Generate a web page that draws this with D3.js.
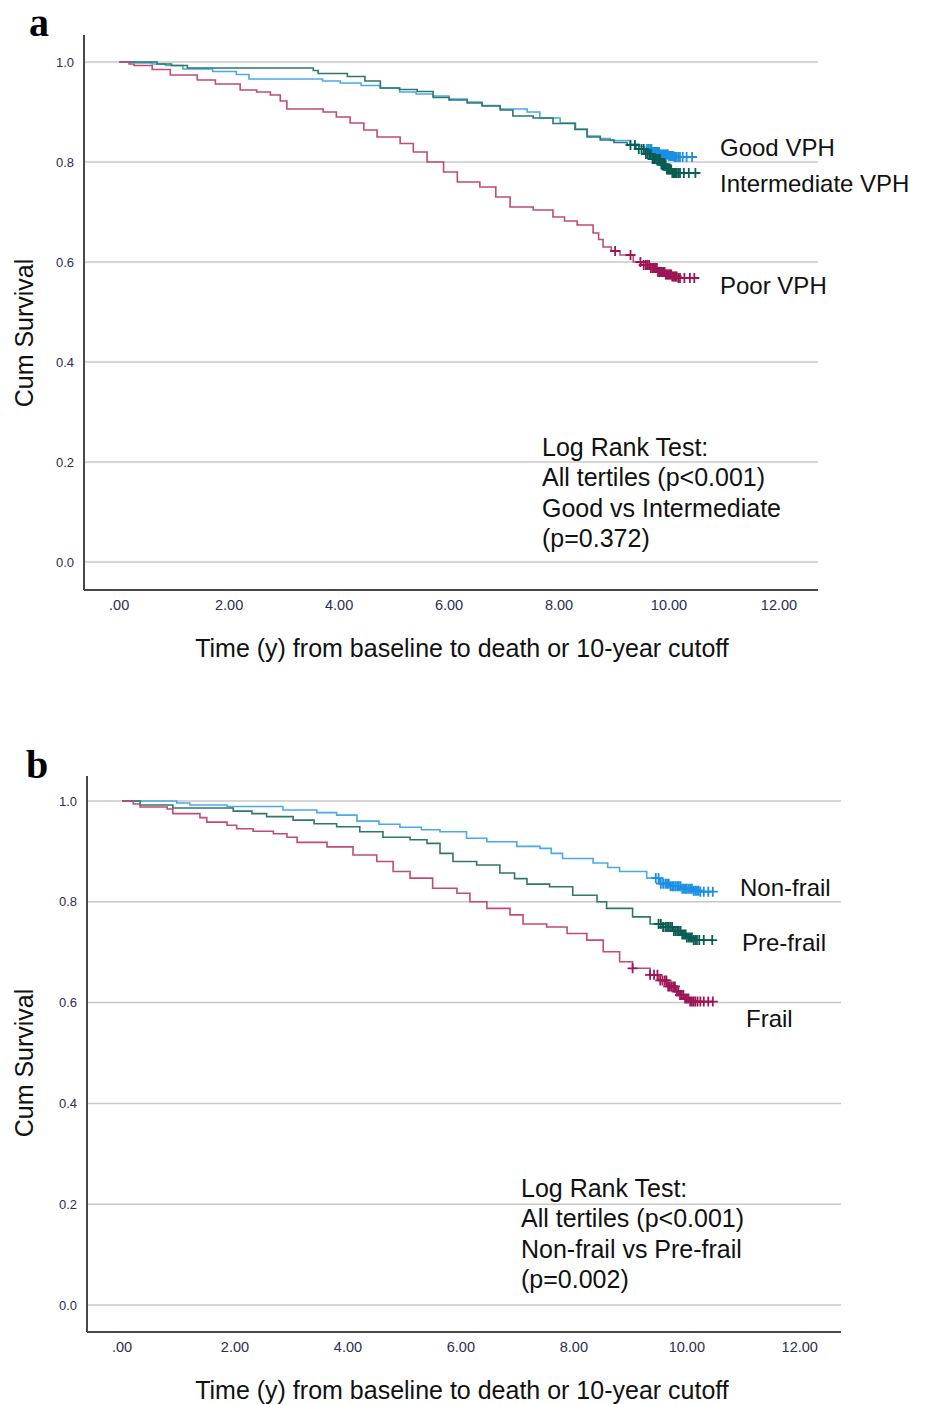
<!DOCTYPE html>
<html>
<head>
<meta charset="utf-8">
<script src="https://cdn.jsdelivr.net/npm/d3@7"></script>
<style>
  body { margin: 0; background: #fff; }
  svg text { font-family: "Liberation Sans", Arial, sans-serif; }
</style>
</head>
<body>
<div id="chart"></div>
<script>
// ---- shared axis data ----
const xTicks = [0, 2, 4, 6, 8, 10, 12];
const xTickLabels = ['.00', '2.00', '4.00', '6.00', '8.00', '10.00', '12.00'];
const yTicks = [0, 0.2, 0.4, 0.6, 0.8, 1.0];
const yTickLabels = ['0.0', '0.2', '0.4', '0.6', '0.8', '1.0'];
const xTitle = 'Time (y) from baseline to death or 10-year cutoff';
const yTitle = 'Cum Survival';

// ---- panel a: VPH tertiles ----
const vphNames = ['Good VPH', 'Intermediate VPH', 'Poor VPH'];
const goodTime = [0, 0.3, 0.6, 0.84, 1.16, 1.7, 2.13, 2.36, 3.7, 4.02, 4.4, 4.75, 5.1, 5.4, 5.71, 6.0, 6.33, 6.6, 6.93, 7.42, 7.65, 8.02, 8.3, 8.51, 8.75, 8.93, 9.29, 9.45, 9.56, 9.7, 9.84, 10.0, 10.1];
const goodSurv = [1.0, 0.998, 0.996, 0.993, 0.986, 0.981, 0.975, 0.966, 0.962, 0.958, 0.953, 0.948, 0.94, 0.936, 0.932, 0.926, 0.92, 0.913, 0.906, 0.9, 0.888, 0.878, 0.866, 0.852, 0.847, 0.843, 0.836, 0.831, 0.826, 0.82, 0.815, 0.812, 0.81];
const goodCensor = [9.6, 9.63, 9.66, 9.68, 9.7, 9.72, 9.74, 9.76, 9.78, 9.8, 9.82, 9.84, 9.86, 9.88, 9.9, 9.92, 9.94, 9.96, 9.98, 10.0, 10.02, 10.04, 10.06, 10.08, 10.1, 10.12, 10.14, 10.17, 10.2, 10.25, 10.32, 10.42];

const interTime = [0, 0.69, 0.95, 1.24, 3.53, 3.62, 4.15, 4.47, 4.75, 5.1, 5.42, 5.71, 6.0, 6.33, 6.6, 6.93, 7.16, 7.53, 7.89, 8.29, 8.51, 8.75, 9.0, 9.24, 9.4, 9.55, 9.7, 9.85, 9.95, 10.05];
const interSurv = [1.0, 0.996, 0.993, 0.988, 0.983, 0.977, 0.971, 0.962, 0.948, 0.945, 0.941, 0.929, 0.924, 0.918, 0.912, 0.904, 0.892, 0.888, 0.877, 0.865, 0.85, 0.844, 0.839, 0.834, 0.826, 0.816, 0.806, 0.795, 0.785, 0.778];
const interCensor = [9.3, 9.38, 9.45, 9.5, 9.54, 9.58, 9.61, 9.64, 9.67, 9.7, 9.72, 9.74, 9.76, 9.78, 9.8, 9.82, 9.84, 9.86, 9.88, 9.9, 9.92, 9.94, 9.96, 9.98, 10.0, 10.02, 10.04, 10.06, 10.08, 10.1, 10.12, 10.14, 10.17, 10.2, 10.27, 10.36, 10.48];

const poorTime = [0, 0.18, 0.27, 0.6, 0.93, 1.42, 1.75, 2.2, 2.5, 2.75, 2.93, 3.05, 3.71, 3.95, 4.2, 4.45, 4.69, 5.11, 5.35, 5.6, 5.9, 6.15, 6.56, 6.85, 7.11, 7.53, 7.89, 8.1, 8.33, 8.62, 8.72, 8.8, 8.95, 9.11, 9.35, 9.5, 9.65, 9.8, 9.93, 10.05, 10.15];
const poorSurv = [1.0, 0.996, 0.993, 0.985, 0.974, 0.964, 0.956, 0.944, 0.94, 0.934, 0.922, 0.906, 0.9, 0.89, 0.878, 0.864, 0.85, 0.837, 0.82, 0.8, 0.78, 0.76, 0.75, 0.73, 0.71, 0.704, 0.69, 0.682, 0.674, 0.658, 0.645, 0.63, 0.622, 0.614, 0.6, 0.594, 0.588, 0.58, 0.575, 0.571, 0.568];
const poorCensor = [9.02, 9.3, 9.48, 9.54, 9.58, 9.61, 9.64, 9.67, 9.7, 9.72, 9.74, 9.76, 9.78, 9.8, 9.82, 9.84, 9.86, 9.88, 9.9, 9.92, 9.94, 9.96, 9.98, 10.0, 10.02, 10.04, 10.06, 10.08, 10.1, 10.12, 10.14, 10.17, 10.2, 10.28, 10.38, 10.46];

const vphNotes = ['Log Rank Test:', 'All tertiles (p<0.001)', 'Good vs Intermediate', '(p=0.372)'];

// ---- panel b: frailty ----
const frailNames = ['Non-frail', 'Pre-frail', 'Frail'];
const nonTime = [0, 0.97, 1.2, 1.86, 2.85, 3.45, 3.8, 4.16, 4.55, 4.92, 5.3, 5.63, 6.1, 6.46, 6.99, 7.4, 7.6, 7.8, 8.34, 8.6, 8.81, 9.29, 9.52, 9.7, 9.9, 10.1, 10.23];
const nonSurv = [1.0, 0.996, 0.992, 0.989, 0.982, 0.977, 0.972, 0.96, 0.954, 0.948, 0.943, 0.939, 0.926, 0.919, 0.91, 0.906, 0.896, 0.886, 0.877, 0.868, 0.86, 0.847, 0.836, 0.831, 0.826, 0.822, 0.82];
const nonCensor = [9.45, 9.5, 9.54, 9.58, 9.62, 9.65, 9.68, 9.71, 9.74, 9.77, 9.8, 9.83, 9.86, 9.89, 9.92, 9.95, 9.98, 10.0, 10.03, 10.06, 10.09, 10.12, 10.15, 10.18, 10.21, 10.24, 10.3, 10.38, 10.46];

const preTime = [0, 0.32, 0.9, 1.97, 2.3, 2.56, 3.03, 3.4, 3.8, 4.21, 4.62, 5.1, 5.4, 5.63, 5.86, 6.28, 6.69, 6.95, 7.17, 7.57, 7.98, 8.41, 8.58, 9.04, 9.35, 9.58, 9.75, 9.9, 10.0, 10.11];
const preSurv = [1.0, 0.992, 0.986, 0.98, 0.975, 0.969, 0.962, 0.955, 0.949, 0.939, 0.928, 0.923, 0.916, 0.896, 0.88, 0.873, 0.857, 0.846, 0.835, 0.83, 0.813, 0.8, 0.787, 0.77, 0.756, 0.75, 0.742, 0.735, 0.729, 0.724];
const preCensor = [9.5, 9.54, 9.58, 9.62, 9.65, 9.68, 9.71, 9.74, 9.77, 9.8, 9.83, 9.86, 9.89, 9.92, 9.95, 9.98, 10.0, 10.03, 10.06, 10.09, 10.12, 10.15, 10.18, 10.22, 10.3, 10.45];

const frailTime = [0, 0.2, 0.32, 0.8, 0.9, 1.38, 1.5, 1.86, 2.03, 2.32, 2.68, 2.92, 3.1, 3.63, 4.09, 4.51, 4.8, 5.1, 5.5, 5.93, 6.16, 6.46, 6.87, 7.1, 7.52, 7.88, 8.23, 8.52, 8.81, 9.04, 9.35, 9.5, 9.65, 9.8, 9.88, 9.96, 10.05];
const frailSurv = [1.0, 0.994, 0.988, 0.984, 0.975, 0.967, 0.958, 0.952, 0.945, 0.94, 0.935, 0.928, 0.918, 0.909, 0.893, 0.88, 0.86, 0.847, 0.827, 0.817, 0.8, 0.787, 0.774, 0.756, 0.75, 0.737, 0.724, 0.701, 0.681, 0.668, 0.655, 0.644, 0.632, 0.622, 0.615, 0.608, 0.602];
const frailCensor = [9.04, 9.35, 9.42, 9.48, 9.53, 9.57, 9.61, 9.64, 9.67, 9.7, 9.73, 9.76, 9.79, 9.82, 9.85, 9.88, 9.91, 9.94, 9.97, 10.0, 10.03, 10.06, 10.09, 10.12, 10.15, 10.19, 10.24, 10.3, 10.38, 10.46];

const frailNotes = ['Log Rank Test:', 'All tertiles (p<0.001)', 'Non-frail vs Pre-frail', '(p=0.002)'];

const lineColors = ['#4aa9ea', '#2e7869', '#c04a7b'];
const censorColors = ['#1b8fe4', '#0a5d53', '#9c1656'];

class KMPlot {

  constructor(_svg, _config, _groups) {
    this.svg = _svg;
    this.config = _config;
    this.groups = _groups;
    this.initVis();
  }

  initVis() {
    let vis = this;
    const c = vis.config;

    vis.g = vis.svg.append('g');

    vis.x = d3.scaleLinear().domain(c.xDomain).range([c.left, c.right]);
    vis.y = d3.scaleLinear().domain(c.yDomain).range([c.bottom, c.top]);

    // panel letter
    vis.g.append('text')
        .attr('x', c.letterX).attr('y', c.letterY)
        .style('font-family', '"Liberation Serif", "Times New Roman", serif')
        .style('font-weight', 'bold')
        .style('font-size', '40px')
        .attr('fill', '#000')
        .text(c.letter);

    // gridlines
    vis.g.selectAll('.grid')
        .data(yTicks)
      .join('line')
        .attr('class', 'grid')
        .attr('x1', c.left).attr('x2', c.right)
        .attr('y1', d => vis.y(d)).attr('y2', d => vis.y(d))
        .attr('stroke', '#c8c8c8')
        .attr('stroke-width', 1.5);

    // axis lines
    vis.g.append('line')
        .attr('x1', c.left).attr('x2', c.left)
        .attr('y1', c.top).attr('y2', c.bottom)
        .attr('stroke', '#484848').attr('stroke-width', 2);
    vis.g.append('line')
        .attr('x1', c.left).attr('x2', c.right)
        .attr('y1', c.bottom).attr('y2', c.bottom)
        .attr('stroke', '#484848').attr('stroke-width', 2);

    // tick labels
    vis.g.selectAll('.ytick')
        .data(yTicks)
      .join('text')
        .attr('class', 'ytick')
        .attr('x', c.left - 10)
        .attr('y', d => vis.y(d))
        .attr('dy', '.35em')
        .attr('text-anchor', 'end')
        .style('font-size', '13px')
        .attr('fill', '#2b2d52')
        .text((d, i) => yTickLabels[i]);

    vis.g.selectAll('.xtick')
        .data(xTicks)
      .join('text')
        .attr('class', 'xtick')
        .attr('x', d => vis.x(d))
        .attr('y', c.bottom + 20)
        .attr('text-anchor', 'middle')
        .style('font-size', '14.5px')
        .attr('fill', '#2b2d52')
        .text((d, i) => xTickLabels[i]);

    // axis titles
    vis.g.append('text')
        .attr('x', 462).attr('y', c.bottom + 67)
        .attr('text-anchor', 'middle')
        .style('font-size', '25px')
        .attr('fill', '#111')
        .text(xTitle);

    vis.g.append('text')
        .attr('transform', `translate(33,${c.yTitleY}) rotate(-90)`)
        .attr('text-anchor', 'middle')
        .style('font-size', '25px')
        .attr('fill', '#111')
        .text(yTitle);

    vis.renderVis();
  }

  renderVis() {
    let vis = this;
    const c = vis.config;

    const line = d3.line()
        .x(d => vis.x(d[0]))
        .y(d => vis.y(d[1]))
        .curve(d3.curveStepAfter);

    vis.groups.forEach((grp, gi) => {
      const pts = grp.time.map((t, i) => [t, grp.surv[i]]);
      const tEnd = d3.max(grp.censor);
      pts.push([tEnd, grp.surv[grp.surv.length - 1]]);

      vis.g.append('path')
          .datum(pts)
          .attr('d', line)
          .attr('fill', 'none')
          .attr('stroke', lineColors[gi])
          .attr('stroke-width', 1.6);

      // censor marks sit on the step curve
      const survAt = t => grp.surv[d3.bisectRight(grp.time, t) - 1];
      const marks = vis.g.append('g');
      marks.selectAll('path')
          .data(grp.censor)
        .join('path')
          .attr('d', d => {
            const px = vis.x(d), py = vis.y(survAt(d));
            return `M${px - 5},${py}H${px + 5}M${px},${py - 5}V${py + 5}`;
          })
          .attr('stroke', censorColors[gi])
          .attr('stroke-width', 1.8)
          .attr('fill', 'none');

      vis.g.append('text')
          .attr('x', c.labels[gi][0])
          .attr('y', c.labels[gi][1])
          .style('font-size', '24px')
          .attr('fill', '#111')
          .text(grp.name);
    });

    // log rank annotation
    vis.g.selectAll('.note')
        .data(c.notes)
      .join('text')
        .attr('class', 'note')
        .attr('x', c.noteX)
        .attr('y', (d, i) => c.noteY + i * 30.3)
        .style('font-size', '25px')
        .attr('fill', '#111')
        .text(d => d);
  }
}

const svg = d3.select('#chart').append('svg')
    .attr('width', 930)
    .attr('height', 1405);

new KMPlot(svg, {
  letter: 'a', letterX: 29, letterY: 36,
  left: 84, right: 818, top: 35, bottom: 590,
  xDomain: [-0.64, 12.71], yDomain: [-0.056, 1.054],
  yTitleY: 333,
  labels: [[720, 156], [720, 192], [720, 294]],
  notes: vphNotes, noteX: 542, noteY: 456
}, [
  { name: vphNames[0], time: goodTime, surv: goodSurv, censor: goodCensor },
  { name: vphNames[1], time: interTime, surv: interSurv, censor: interCensor },
  { name: vphNames[2], time: poorTime, surv: poorSurv, censor: poorCensor }
]);

new KMPlot(svg, {
  letter: 'b', letterX: 26, letterY: 778,
  left: 87, right: 841, top: 776, bottom: 1332,
  xDomain: [-0.62, 12.73], yDomain: [-0.0536, 1.0496],
  yTitleY: 1063,
  labels: [[740, 896], [742, 951], [746, 1027]],
  notes: frailNotes, noteX: 521, noteY: 1197
}, [
  { name: frailNames[0], time: nonTime, surv: nonSurv, censor: nonCensor },
  { name: frailNames[1], time: preTime, surv: preSurv, censor: preCensor },
  { name: frailNames[2], time: frailTime, surv: frailSurv, censor: frailCensor }
]);
</script>
</body>
</html>
